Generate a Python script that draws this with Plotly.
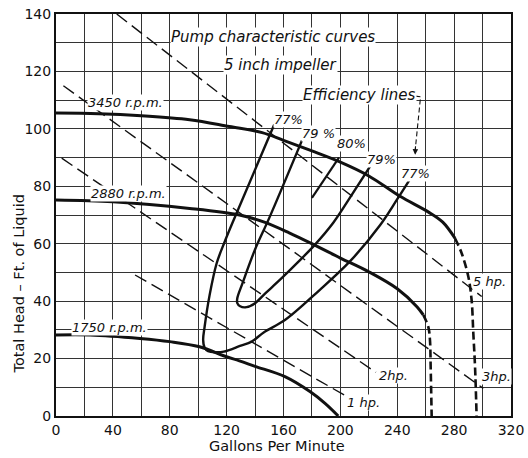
import plotly.graph_objects as go

# ---- Head-capacity curves (solid part) ----
rpm3450_gpm = [0, 30, 60, 94, 122, 145, 160, 180, 200, 220, 242, 262, 272, 280.6]
rpm3450_head = [105.5, 105.3, 104.6, 103.2, 100.8, 98.7, 96, 92.3, 88.4, 83.6, 76.5, 71, 67.5, 61.9]
rpm3450_ext_gpm = [280.6, 285.3, 290, 292.3, 293.5, 294.7, 295.8]
rpm3450_ext_head = [61.9, 56.7, 48.5, 40.4, 28.8, 17.2, 0]

rpm2880_gpm = [0, 40, 94, 129, 146, 164, 182, 200, 220, 240, 254, 258.3]
rpm2880_head = [75.2, 74.6, 72.3, 70, 67.6, 63.8, 59.5, 55, 50.2, 44.3, 38, 35.2]
rpm2880_ext_gpm = [258.3, 261.8, 263, 263.5, 264.2]
rpm2880_ext_head = [35.2, 31.1, 26.5, 17.2, 0]

rpm1750_gpm = [0, 24, 59, 80, 101, 119, 129, 140, 161, 178.6, 189.2, 198.5]
rpm1750_head = [28.2, 28.2, 27, 25.9, 24.1, 20.8, 19.2, 17.3, 13.7, 8.5, 4.4, 0]

# ---- Efficiency lines ----
eff77_gpm = [153.5, 126, 118.5, 113, 108, 104.5, 103.5, 104.5, 107, 112, 118, 129.4,
             137.6, 146.3, 161, 185, 207.2, 228, 240, 249]
eff77_head = [101.5, 69.5, 60.5, 53.2, 42, 31, 26.5, 23.8, 22.6, 22.2, 22.4, 24.4,
              25.9, 29.2, 33.4, 43.7, 54.1, 66.5, 75.5, 82.5]
eff79_gpm = [173, 150, 140, 131, 127.5, 127.5, 129.5, 134, 140, 146.3, 158.7, 170, 182, 195, 208, 221]
eff79_head = [96, 69, 58, 46, 41, 39.3, 38.2, 37.9, 39.3, 42.3, 48, 53.5, 59.6, 67.3, 77, 87]
eff80_gpm = [180, 199]
eff80_head = [76, 90]

# ---- Horsepower lines ----
hp5_gpm = [42.7, 299.4]
hp5_head = [140, 41.6]
hp3_gpm = [5.2, 300.5]
hp3_head = [115, 9.6]
hp2_gpm = [4, 225]
hp2_head = [89.8, 15.2]
hp1_gpm = [55.6, 208]
hp1_head = [49.1, 5.8]

# ---- Efficiency pointer ----
pointer_gpm = [252.8, 256.4, 252.6]
pointer_head = [111.4, 111.2, 92.5]

# ---- Labels ----
label_text = ["3450 r.p.m.", "2880 r.p.m.", "1750 r.p.m.", "Pump characteristic curves",
              "5 inch impeller", "Efficiency lines", "77%", "79 %", "80%", "79%", "77%",
              "5 hp.", "3hp.", "2hp.", "1 hp."]
label_gpm = [48.8, 51, 37.5, 152.3, 158, 213.5, 163.4, 184.5, 208, 229, 253,
             305.2, 310, 237.7, 216.6]
label_head = [109.1, 77.6, 30.9, 132, 122.3, 111.8, 103.1, 98.5, 95, 89.2, 84.5,
              46.8, 13.7, 14, 4.8]

x_ticks = [0, 40, 80, 120, 160, 200, 240, 280, 320]
y_ticks = [0, 20, 40, 60, 80, 100, 120, 140]

FONT = "DejaVu Sans"
INK = "#111111"
BIG_LABELS = {"Pump characteristic curves", "5 inch impeller", "Efficiency lines"}

W, H = 528, 458
ML, MR, MT, MB = 56, 17, 14, 42
PW, PH = W - ML - MR, H - MT - MB

fig = go.Figure()

def add_line(x, y, width, dash="solid", shape="spline"):
    fig.add_trace(go.Scatter(x=x, y=y, mode="lines",
                             line=dict(color=INK, width=width, dash=dash, shape=shape),
                             hoverinfo="skip", showlegend=False))

# hp lines
for xs, ys in [(hp5_gpm, hp5_head), (hp3_gpm, hp3_head), (hp2_gpm, hp2_head), (hp1_gpm, hp1_head)]:
    add_line(xs, ys, 1.4, dash="13px,6px", shape="linear")

# efficiency lines
add_line(eff77_gpm, eff77_head, 2.4)
add_line(eff79_gpm, eff79_head, 2.4)
add_line(eff80_gpm, eff80_head, 2.2, shape="linear")

# pump curves
add_line(rpm3450_gpm, rpm3450_head, 3)
add_line(rpm2880_gpm, rpm2880_head, 3)
add_line(rpm1750_gpm, rpm1750_head, 3)
add_line(rpm3450_ext_gpm, rpm3450_ext_head, 2.6, dash="8px,4px")
add_line(rpm2880_ext_gpm, rpm2880_ext_head, 2.6, dash="8px,4px")

# pointer
add_line(pointer_gpm, pointer_head, 1.1, dash="5px,3px", shape="linear")

for t, xg, yh in zip(label_text, label_gpm, label_head):
    fig.add_annotation(x=xg, y=yh, text=t, showarrow=False,
                       font=dict(family=FONT, size=15 if t in BIG_LABELS else 13,
                                 color=INK, style="italic"),
                       bgcolor="white", borderpad=0)

# arrow head of pointer
fig.add_annotation(x=pointer_gpm[-1], y=pointer_head[-1] - 1.5, ax=pointer_gpm[-1] + 0.3,
                   ay=pointer_head[-1] + 2, axref="x", ayref="y", text="", showarrow=True,
                   arrowhead=2, arrowsize=1, arrowwidth=1.1, arrowcolor=INK)

# axis titles (positions in window pixels converted to paper coords)
fig.add_annotation(xref="paper", yref="paper", x=(277 - ML) / PW, y=(416 - 446) / PH,
                   text="Gallons Per Minute", showarrow=False, yanchor="middle",
                   font=dict(family=FONT, size=14.5, color=INK))
fig.add_annotation(xref="paper", yref="paper", x=(18 - ML) / PW, y=(416 - 284.5) / PH,
                   text="Total Head \u2013 Ft. of Liquid", showarrow=False, textangle=-90,
                   xanchor="center", yanchor="middle",
                   font=dict(family=FONT, size=14.5, color=INK))

grid = dict(showgrid=True, gridcolor="#333333", gridwidth=1)
fig.update_xaxes(range=[0, 320], tickvals=x_ticks, ticktext=[str(v) for v in x_ticks],
                 minor=dict(dtick=20, showgrid=True, gridcolor="#333333", gridwidth=1),
                 showline=True, linecolor=INK, linewidth=2, mirror=True, zeroline=False,
                 tickfont=dict(family=FONT, size=14, color=INK), automargin=False,
                 ticklabeloverflow="allow", **grid)
fig.update_yaxes(range=[0, 140], tickvals=y_ticks, ticktext=[str(v) for v in y_ticks],
                 minor=dict(dtick=10, showgrid=True, gridcolor="#333333", gridwidth=1),
                 showline=True, linecolor=INK, linewidth=2, mirror=True, zeroline=False,
                 tickfont=dict(family=FONT, size=14, color=INK), automargin=False,
                 ticklabeloverflow="allow", **grid)

fig.update_layout(width=W, height=H, margin=dict(l=ML, r=MR, t=MT, b=MB),
                  plot_bgcolor="white", paper_bgcolor="white", showlegend=False)

# remove the browser's default 8px page margin so the figure fills the window
fig.write_html("out.html", config={"displayModeBar": False},
               post_script="document.body.style.margin='0';")
